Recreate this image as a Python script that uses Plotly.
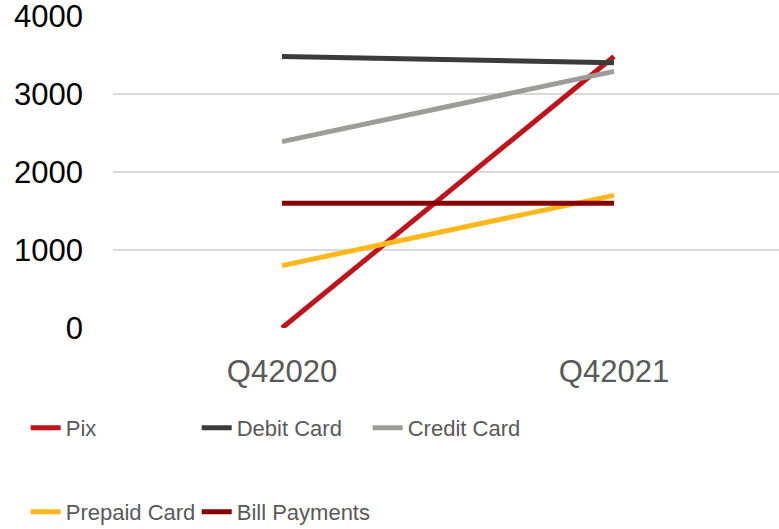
import plotly.graph_objects as go

categories = ["Q42020", "Q42021"]
pix = [0, 3480]
debit_card = [3480, 3400]
credit_card = [2390, 3290]
prepaid_card = [800, 1700]
bill_payments = [1600, 1600]

series = [
    ("Pix", pix, "#c0141c", "legend"),
    ("Debit Card", debit_card, "#3b3b3b", "legend"),
    ("Credit Card", credit_card, "#9c9c98", "legend"),
    ("Prepaid Card", prepaid_card, "#ffb81c", "legend2"),
    ("Bill Payments", bill_payments, "#870000", "legend3"),
]

fig = go.Figure()
for name, vals, color, lg in series:
    fig.add_trace(go.Scatter(x=categories, y=vals, name=name, mode="lines",
                             line=dict(color=color, width=5), legend=lg))

legend_font = dict(family="Liberation Sans", size=22, color="#595959")
common = dict(orientation="h", xref="container", yref="container", xanchor="left",
              yanchor="middle", font=legend_font, bgcolor="rgba(0,0,0,0)")
fig.update_layout(
    width=779, height=529,
    margin=dict(l=113, r=0, t=16, b=201),
    plot_bgcolor="white", paper_bgcolor="white",
    showlegend=True,
    legend=dict(x=0.033, y=1 - 428 / 529, entrywidth=126, **common),
    legend2=dict(x=0.033, y=1 - 512 / 529, **common),
    legend3=dict(x=0.033 + 171 / 779, y=1 - 512 / 529, **common),
    xaxis=dict(type="category", range=[-0.509, 1.497], showgrid=False, showline=False,
               zeroline=False, ticks="", ticklabelstandoff=22, automargin=False,
               ticklabeloverflow="allow",
               tickfont=dict(family="Liberation Sans", size=31, color="#595959")),
    yaxis=dict(range=[0, 4000], tickvals=[0, 1000, 2000, 3000, 4000], showgrid=True,
               gridcolor="#d9d9d9", gridwidth=1.5, zeroline=False, showline=False,
               ticks="", ticklabelstandoff=29, automargin=False,
               ticklabeloverflow="allow",
               tickfont=dict(family="Liberation Sans", size=31, color="#000000")),
)
fig.write_html("out.html", config={"displayModeBar": False},
               post_script="document.body.style.margin='0';document.body.style.padding='0';")
